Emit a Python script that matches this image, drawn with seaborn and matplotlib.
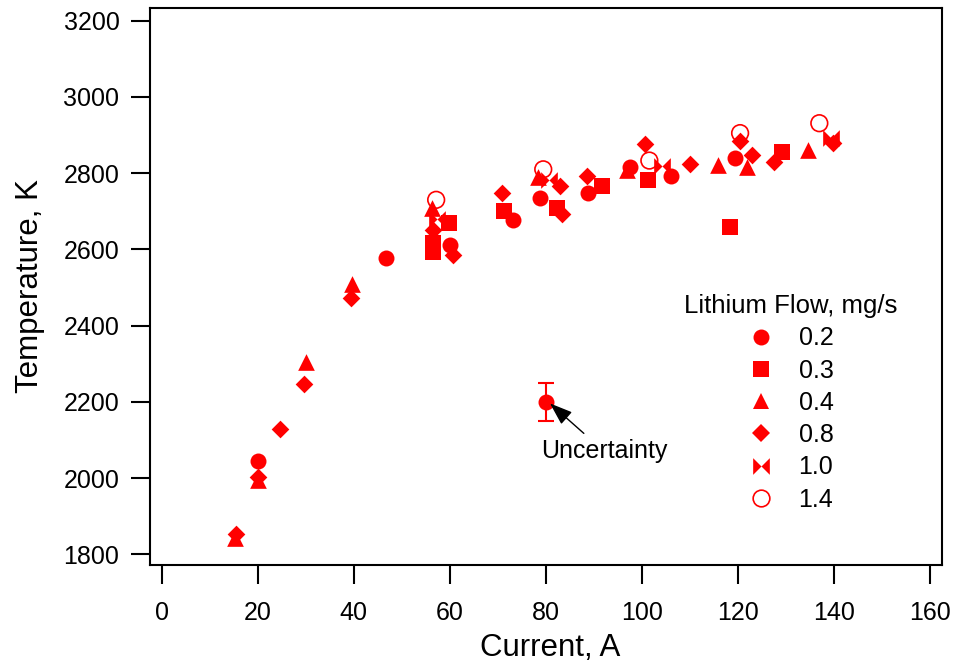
import numpy as np
import pandas as pd
import matplotlib
matplotlib.use("Agg")
import matplotlib.pyplot as plt
from matplotlib.path import Path
from matplotlib.lines import Line2D
import seaborn as sns

# Lithium flow 0.2 mg/s (filled circles)
current_02 = [20.0, 46.7, 60.0, 73.3, 78.9, 80.0, 88.9, 97.6, 106.1, 119.5]
temp_02 = [2045, 2577, 2611, 2677, 2734, 2200, 2747, 2815, 2792, 2839]

# 0.3 mg/s (squares)
current_03 = [56.5, 56.5, 59.8, 71.4, 82.3, 91.7, 101.4, 118.4, 129.2]
temp_03 = [2592, 2618, 2670, 2702, 2708, 2765, 2782, 2658, 2856]

# 0.4 mg/s (triangles)
current_04 = [15.2, 20.0, 30.0, 39.7, 56.3, 78.5, 97.0, 116.0, 121.9, 134.7]
temp_04 = [1842, 1995, 2305, 2510, 2708, 2790, 2808, 2821, 2817, 2861]

# 0.8 mg/s (diamonds)
current_08 = [15.5, 20.0, 24.7, 29.6, 39.5, 56.6, 60.8, 70.9, 83.0, 83.4,
              88.6, 100.7, 110.1, 120.5, 123.0, 127.5, 139.9]
temp_08 = [1853, 2003, 2130, 2248, 2473, 2650, 2585, 2749, 2765, 2693,
           2792, 2876, 2824, 2885, 2848, 2830, 2880]

# 1.0 mg/s (bowties)
current_10 = [57.3, 80.6, 104.2, 139.5]
temp_10 = [2680, 2782, 2819, 2891]

# 1.4 mg/s (open circles)
current_14 = [57.2, 79.5, 101.6, 120.5, 137.0]
temp_14 = [2730, 2810, 2833, 2905, 2931]

flow_labels = ["0.2", "0.3", "0.4", "0.8", "1.0", "1.4"]

# uncertainty example point
err_x = 80.0
err_y = 2200
err_size = 50

RED = "#ff0000"

bowtie = Path([(-1, -1), (-1, 1), (0, 0), (1, 1), (1, -1), (0, 0), (-1, -1)],
              [Path.MOVETO, Path.LINETO, Path.LINETO, Path.LINETO,
               Path.LINETO, Path.LINETO, Path.CLOSEPOLY])

df = pd.concat([
    pd.DataFrame({"current": current_02, "temp": temp_02, "flow": "0.2"}),
    pd.DataFrame({"current": current_03, "temp": temp_03, "flow": "0.3"}),
    pd.DataFrame({"current": current_04, "temp": temp_04, "flow": "0.4"}),
    pd.DataFrame({"current": current_08, "temp": temp_08, "flow": "0.8"}),
    pd.DataFrame({"current": current_10, "temp": temp_10, "flow": "1.0"}),
    pd.DataFrame({"current": current_14, "temp": temp_14, "flow": "1.4"}),
], ignore_index=True)

# marker, size in points, filled
styles = {
    "0.2": ("o", 11.5, True),
    "0.3": ("s", 11.5, True),
    "0.4": ("^", 12.0, True),
    "0.8": ("D", 9.0, True),
    "1.0": (bowtie, 12.0, True),
    "1.4": ("o", 12.0, False),
}

sns.set_style("white")
plt.rcParams["font.family"] = ["Liberation Sans", "DejaVu Sans"]
plt.rcParams["text.color"] = "black"
plt.rcParams["axes.labelcolor"] = "black"
plt.rcParams["xtick.color"] = "black"
plt.rcParams["ytick.color"] = "black"

fig = plt.figure(figsize=(9.56, 6.63), dpi=100)
ax = fig.add_axes([0.1569, 0.1478, 0.8282, 0.840])

for flow in flow_labels:
    marker, ms, filled = styles[flow]
    sub = df[df["flow"] == flow]
    if filled:
        sns.scatterplot(data=sub, x="current", y="temp", marker=marker, s=ms ** 2,
                        color=RED, edgecolor=RED, linewidth=0, ax=ax, zorder=3)
    else:
        sns.scatterplot(data=sub, x="current", y="temp", marker=marker, s=ms ** 2,
                        facecolors="none", edgecolor=RED, linewidth=1.2, ax=ax, zorder=3)

ax.errorbar([err_x], [err_y], yerr=[err_size], fmt="none", ecolor=RED,
            elinewidth=1.5, capsize=6, capthick=1.5, zorder=2)

ax.annotate("Uncertainty", xy=(80.9, 2196), xytext=(92.2, 2070),
            ha="center", va="center", fontsize=18, color="black",
            arrowprops=dict(arrowstyle="-|>,head_length=0.7,head_width=0.25",
                            color="black", lw=1.0, mutation_scale=20,
                            shrinkA=3, shrinkB=0))

ax.set_xlim(-2.4, 162.5)
ax.set_ylim(1772, 3233)
ax.set_xticks(np.arange(0, 161, 20))
ax.set_yticks(np.arange(1800, 3201, 200))
ax.set_xlabel("Current, A", fontsize=22.5)
ax.set_ylabel("Temperature, K", fontsize=22.5)
ax.xaxis.set_label_coords(0.505, -0.122)
ax.yaxis.set_label_coords(-0.133, 0.5)

for side in ["left", "right", "top", "bottom"]:
    ax.spines[side].set_visible(True)
    ax.spines[side].set_color("black")
    ax.spines[side].set_linewidth(1.5)
ax.tick_params(axis="both", direction="out", length=14, width=1.5,
               labelsize=18, color="black", labelcolor="black")
ax.tick_params(axis="x", pad=12)
ax.tick_params(axis="y", pad=8, left=True)
ax.tick_params(axis="x", bottom=True)
ax.grid(False)

handles = []
for flow in flow_labels:
    marker, ms, filled = styles[flow]
    handles.append(Line2D([], [], linestyle="none", marker=marker, markersize=ms,
                          markerfacecolor=RED if filled else "none",
                          markeredgecolor=RED, markeredgewidth=0 if filled else 1.2))
leg = ax.legend(handles, flow_labels, title="Lithium Flow, mg/s", fontsize=18,
                title_fontsize=18.5, frameon=False, loc="upper left",
                bbox_to_anchor=(0.659, 0.509), borderpad=0, handlelength=1.0,
                handletextpad=1.0, labelspacing=0.33)
leg.get_title().set_color("black")
for t in leg.get_texts():
    t.set_color("black")

fig.savefig("out.png", dpi=100)
